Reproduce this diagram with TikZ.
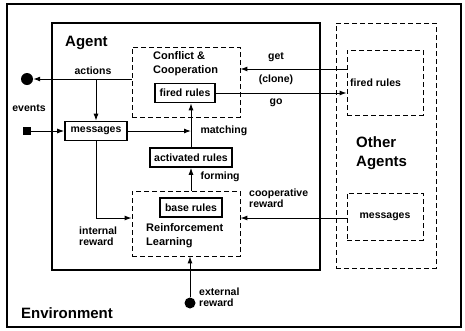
\documentclass[tikz,border=0pt]{standalone}
\usepackage{fontspec}
\setmainfont{Liberation Sans}
\usetikzlibrary{arrows.meta}

\begin{document}
\begin{tikzpicture}[x=1pt,y=-1pt,
  every node/.style={font=\bfseries\fontsize{10.5}{11}\selectfont},
  big/.style={font=\bfseries\fontsize{15}{19}\selectfont,align=left,inner sep=0pt},
  title/.style={font=\bfseries\fontsize{11}{14}\selectfont,align=left,inner sep=0pt},
  lbl/.style={align=left,inner sep=0pt},
  rulebox/.style={draw,line width=1.6pt,minimum width=#1,minimum height=19pt,inner sep=0pt},
  dashbox/.style={draw,line width=0.8pt,dash pattern=on 5pt off 3pt},
  arr/.style={line width=1pt,-{Latex[length=7pt,width=5pt]}}]
  \useasboundingbox (0,0) rectangle (465,330);

  % frames
  \node[draw,line width=1.3pt,minimum width=454pt,minimum height=323pt] (env) at (234,165.5) {};
  \node[draw,line width=2pt,minimum width=268pt,minimum height=247pt] (agent) at (186,146.5) {};
  \node[dashbox,minimum width=100pt,minimum height=245pt] (others) at (386,145.5) {};
  \node[big,anchor=west] (envname) at (21,313) {Environment};
  \node[big,anchor=west] (agentname) at (65,43) {Agent};
  \node[big,anchor=west] (othername) at (356,153) {Other\\Agents};

  % inside the agent
  \node[dashbox,minimum width=108pt,minimum height=70pt] (conflict) at (186,82) {};
  \node[title,anchor=west] (conflictname) at (153,64) {Conflict \&\\Cooperation};
  \node[rulebox=60pt] (fired) at (185,93) {fired rules};
  \node[rulebox=82pt] (activated) at (191,157.5) {activated rules};
  \node[rulebox=62pt] (messages) at (96,131) {messages};
  \node[dashbox,minimum width=108pt,minimum height=65pt] (rl) at (186,223.5) {};
  \node[rulebox=62pt] (base) at (191,207.5) {base rules};
  \node[title,anchor=west] (rlname) at (146,236) {Reinforcement\\Learning};

  % other agents
  \node[dashbox,minimum width=76pt,minimum height=65pt] (ofired) at (385,82.5) {};
  \node[anchor=west,inner sep=0pt] (ofiredname) at (350,83) {fired rules};
  \node[dashbox,minimum width=76pt,minimum height=47pt] (omsg) at (385,216.5) {messages};

  % environment ends
  \node[circle,fill,inner sep=0pt,minimum size=12pt] (actdot) at (27,79) {};
  \node[fill,inner sep=0pt,minimum size=8pt] (evsq) at (27,131) {};
  \node[circle,fill,inner sep=0pt,minimum size=11pt] (extdot) at (190,303) {};

  % connectors
  \draw[arr] (conflict.west |- actdot) -- (actdot);
  \draw[arr] (messages.north |- actdot) -- (messages.north);
  \draw[arr] (evsq) -- (messages.west);
  \draw[arr] (messages.east) -- (messages.east -| activated.north);
  \draw[arr] (activated.north) -- (activated.north |- fired.south);
  \draw[arr] (activated.south |- rl.north) -- (activated.south);
  \draw[arr] (messages.south) |- ([yshift=5.5pt]rl.west);
  \draw[arr] (extdot) -- (extdot |- rl.south);
  \draw[arr] ([yshift=13.5pt]ofired.west) -- ([yshift=13.5pt]ofired.west -| conflict.east);
  \draw[arr] (fired.east) -- (fired.east -| ofired.west);
  \draw[arr] ([yshift=-1.5pt]omsg.west) -- ([yshift=-1.5pt]omsg.west -| rl.east);

  % labels
  \node (actions) at (93,71) {actions};
  \node (events) at (29,108) {events};
  \node[anchor=west] (matching) at (197,131) {matching};
  \node[anchor=west] (forming) at (197,177) {forming};
  \node (get) at (276,57) {get};
  \node (clone) at (276,80) {(clone)};
  \node (go) at (276,103) {go};
  \node[lbl,anchor=west] (coop) at (249,198) {cooperative\\reward};
  \node[lbl,anchor=west] (internal) at (79,236) {internal\\reward};
  \node[lbl,anchor=west] (external) at (199,297) {external\\reward};
\end{tikzpicture}
\end{document}
